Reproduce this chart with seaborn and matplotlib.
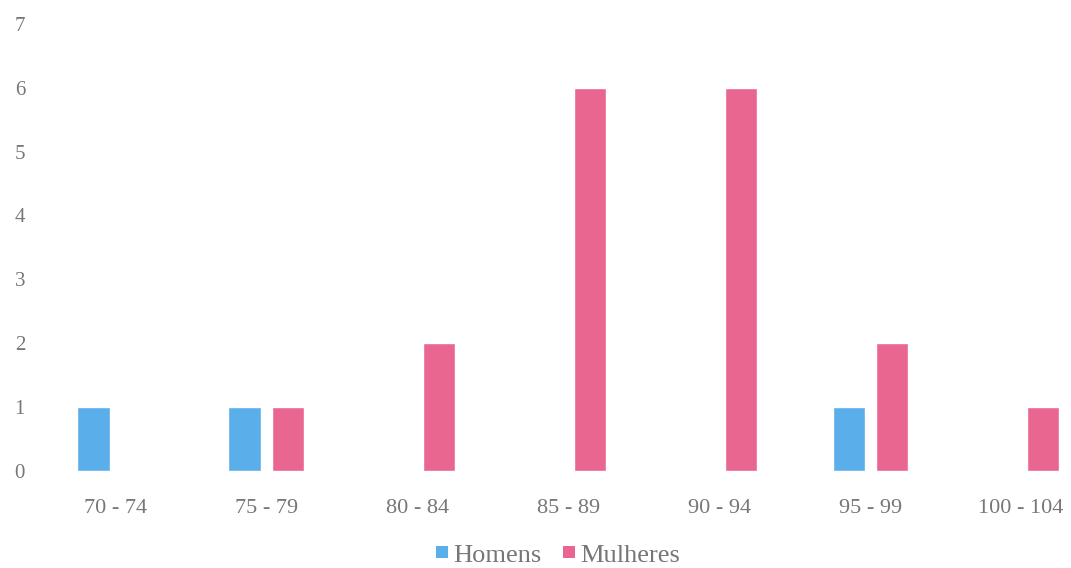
import matplotlib
matplotlib.use("Agg")
import matplotlib.pyplot as plt
import seaborn as sns
import pandas as pd
from matplotlib.patches import Patch

categories = ["70 - 74", "75 - 79", "80 - 84", "85 - 89", "90 - 94", "95 - 99", "100 - 104"]
homens = [1, 1, 0, 0, 0, 1, 0]
mulheres = [0, 1, 2, 6, 6, 2, 1]
series = ["Homens", "Mulheres"]
colors = {"Homens": "#5aaeea", "Mulheres": "#e8668f"}

df = pd.DataFrame({
    "faixa": categories * 2,
    "valor": homens + mulheres,
    "sexo": ["Homens"] * len(categories) + ["Mulheres"] * len(categories),
})

sns.set_theme(style="white")
plt.rcParams["font.family"] = ["Liberation Serif", "DejaVu Serif"]

fig = plt.figure(figsize=(10.71, 5.68), dpi=100)
ax = fig.add_axes([0.037, 0.171, 0.963, 0.787])
sns.barplot(data=df, x="faixa", y="valor", hue="sexo", order=categories,
            hue_order=series, palette=colors, width=0.57, gap=0.25,
            ax=ax, legend=False, saturation=1)
ax.set_xlim(-0.5, 6.33)
ax.set_ylim(0, 7)
ax.set_yticks(range(0, 8))
ax.set_xlabel("")
ax.set_ylabel("")
for s in ax.spines.values():
    s.set_visible(False)
ax.tick_params(axis="x", length=0, colors="#777777", labelsize=16, pad=20)
ax.tick_params(axis="y", length=0, colors="#777777", labelsize=15, pad=18)
for lbl in ax.get_yticklabels():
    lbl.set_horizontalalignment("left")

handles = [Patch(facecolor=colors[s], edgecolor="none", label=s) for s in series]
fig.legend(handles=handles, loc="center", bbox_to_anchor=(0.521, 0.022), ncol=2,
           frameon=False, fontsize=19, handlelength=0.45, handleheight=0.3,
           handletextpad=0.2, columnspacing=0.8, labelcolor="#777777")
fig.savefig("out.png", dpi=100)
